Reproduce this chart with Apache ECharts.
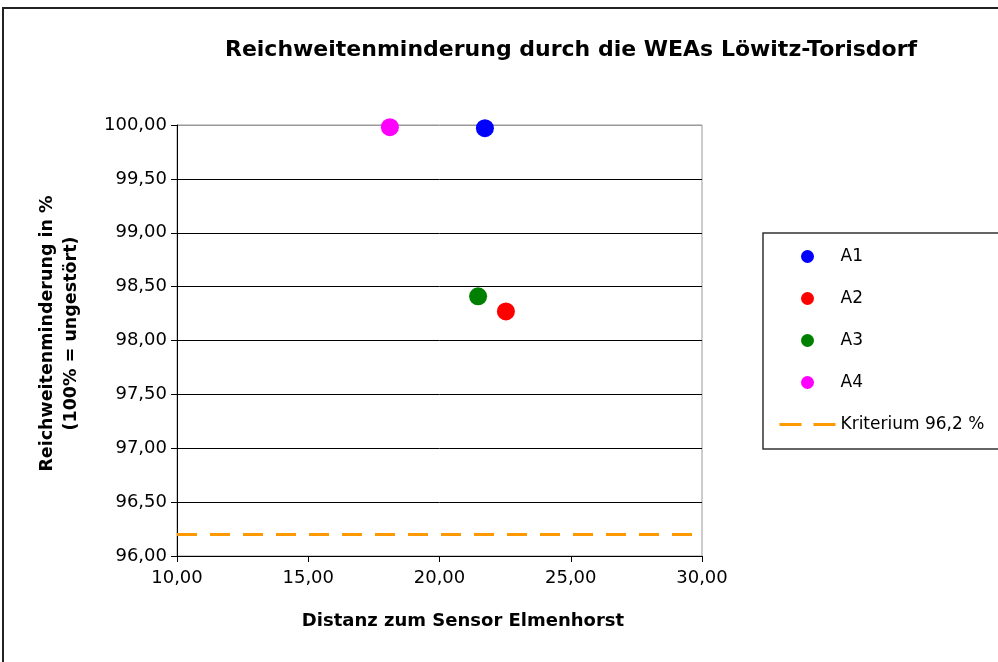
<!DOCTYPE html>
<html>
<head>
<meta charset="utf-8">
<script src="https://cdn.jsdelivr.net/npm/echarts@6/dist/echarts.min.js"></script>
<style>
  html, body { margin: 0; padding: 0; background: #fff; }
  #main { width: 998px; height: 662px; }
</style>
</head>
<body>
<div id="main"></div>
<script>
// values
var seriesNames = ['A1', 'A2', 'A3', 'A4'];
var seriesColors = ['#0000ff', '#ff0000', '#008000', '#ff00ff'];
var distances = [21.73, 22.53, 21.47, 18.11];
var ranges = [99.97, 98.27, 98.41, 99.98];
var criterionName = 'Kriterium 96,2 %';
var criterionX = [10, 30];
var criterionY = [96.2, 96.2];

var fontFamily = '"DejaVu Sans", "Liberation Sans", Arial, sans-serif';

function fmt(v) {
    return v.toFixed(2).replace('.', ',');
}

var myChart = echarts.init(document.getElementById('main'));

var series = seriesNames.map(function (name, i) {
    return {
        name: name,
        type: 'scatter',
        data: [[distances[i], ranges[i]]],
        symbolSize: 18,
        itemStyle: { color: seriesColors[i], opacity: 1 },
        z: 3
    };
});
series.push({
    name: criterionName,
    type: 'line',
    data: criterionX.map(function (x, i) { return [x, criterionY[i]]; }),
    symbol: 'none',
    lineStyle: { color: '#ff9900', width: 3, type: [20, 13] },
    itemStyle: { color: '#ff9900' },
    z: 2
});

// top line of the plot is grey like the frame, the others black
var gridColors = ['#000', '#000', '#000', '#000', '#000', '#000', '#000', '#000', '#999'];

var legendData = seriesNames.map(function (n) {
    return { name: n, itemStyle: { opacity: 1 } };
});
legendData.push({
    name: criterionName,
    itemStyle: { opacity: 0 },
    lineStyle: { color: '#ff9900', width: 3, type: [22, 12] }
});

var option = {
    animation: false,
    backgroundColor: '#fff',
    textStyle: { fontFamily: fontFamily },
    title: {
        text: 'Reichweitenminderung durch die WEAs Löwitz-Torisdorf',
        left: 566,
        top: 34,
        textAlign: 'center',
        textStyle: { fontSize: 22, fontWeight: 'bold', color: '#000', fontFamily: fontFamily }
    },
    graphic: [{
        type: 'rect',
        shape: { x: 3, y: 8, width: 1100, height: 700 },
        style: { fill: 'none', stroke: '#222', lineWidth: 2 },
        silent: true
    }],
    legend: {
        orient: 'vertical',
        left: 763,
        top: 233,
        padding: [15, 40, 16, 15],
        itemWidth: 56,
        itemHeight: 13,
        itemGap: 25,
        borderColor: '#333',
        borderWidth: 1.5,
        data: legendData,
        textStyle: { fontSize: 17, color: '#000', fontFamily: fontFamily, lineHeight: 17 }
    },
    grid: {
        left: 177,
        right: 296,
        top: 125,
        bottom: 106,
        show: true,
        borderColor: '#999',
        borderWidth: 1
    },
    xAxis: {
        type: 'value',
        min: 10,
        max: 30,
        interval: 5,
        name: 'Distanz zum Sensor Elmenhorst',
        nameLocation: 'middle',
        nameGap: 56,
        nameTextStyle: { fontSize: 18, fontWeight: 'bold', color: '#000', fontFamily: fontFamily, padding: [0, 0, 0, 47] },
        axisLine: { show: true, lineStyle: { color: '#000', width: 1 } },
        axisTick: { show: true, inside: false, length: 6, lineStyle: { color: '#000' } },
        axisLabel: { fontSize: 18, color: '#000', margin: 13, formatter: fmt },
        splitLine: { show: false }
    },
    yAxis: {
        type: 'value',
        min: 96,
        max: 100,
        interval: 0.5,
        name: 'Reichweitenminderung in %\n(100% = ungestört)',
        nameLocation: 'middle',
        nameGap: 94,
        nameTextStyle: { fontSize: 17.5, fontWeight: 'bold', color: '#000', lineHeight: 24, fontFamily: fontFamily, padding: [0, 0, 0, 14] },
        axisLine: { show: true, lineStyle: { color: '#000', width: 1 } },
        axisTick: { show: true, inside: false, length: 6, lineStyle: { color: '#000' } },
        axisLabel: { fontSize: 18, color: '#000', margin: 10, formatter: fmt },
        splitLine: { show: true, lineStyle: { color: gridColors, width: 1 } }
    },
    series: series
};
myChart.setOption(option);
</script>
</body>
</html>
